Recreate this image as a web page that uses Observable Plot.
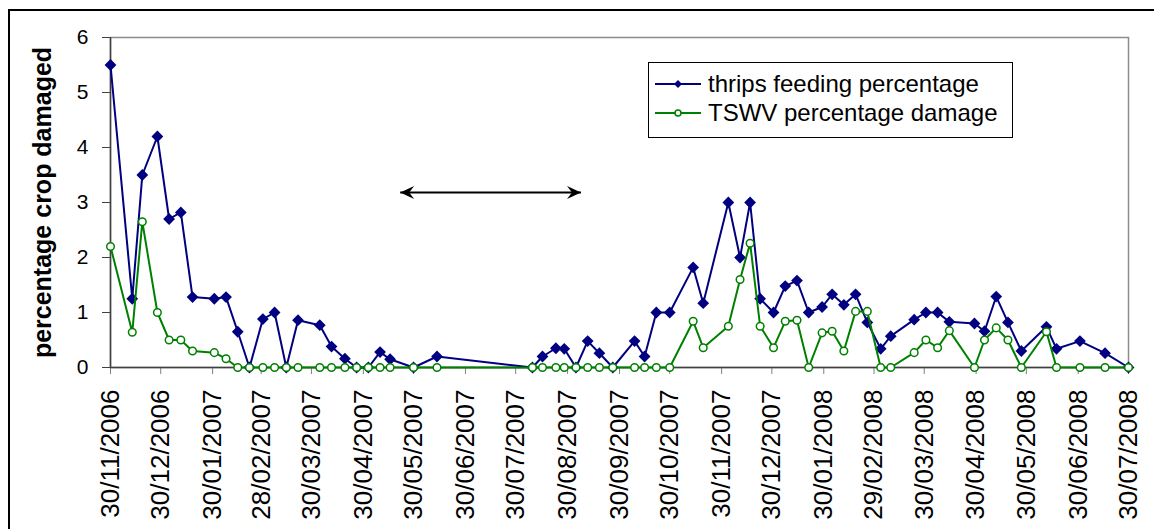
<!DOCTYPE html>
<html>
<head>
<meta charset="utf-8">
<script src="https://cdn.jsdelivr.net/npm/d3@7"></script>
<script src="https://cdn.jsdelivr.net/npm/@observablehq/plot@0.6"></script>
<style>
  body { margin: 0; background: #fff; }
  #chart { position: relative; width: 1154px; height: 529px; overflow: hidden;
           font-family: "Liberation Sans", Arial, sans-serif; }
  #legend { position: absolute; left: 648px; top: 62px; width: 363px; height: 74px;
            border: 1px solid #000; background: #fff; font-size: 24px; color: #000; }
  #legend .row { position: absolute; left: 6px; height: 26px; display: flex; align-items: center; }
  #legend svg { display: block; margin-right: 7px; }
</style>
</head>
<body>
<div id="chart"></div>
<script>
// Sampling dates (weekly scouting, with a gap over the 2007 winter)
const dates = [
  "2006-11-30","2006-12-13","2006-12-19","2006-12-28","2007-01-04","2007-01-11","2007-01-18","2007-01-31",
  "2007-02-07","2007-02-14","2007-02-21","2007-03-01","2007-03-08","2007-03-15","2007-03-22","2007-04-04",
  "2007-04-11","2007-04-19","2007-04-26","2007-05-03","2007-05-10","2007-05-16","2007-05-30","2007-06-13",
  "2007-08-09","2007-08-15","2007-08-23","2007-08-28","2007-09-04","2007-09-11","2007-09-18","2007-09-26",
  "2007-10-09","2007-10-15","2007-10-22","2007-10-30","2007-11-13","2007-11-19","2007-12-04","2007-12-11",
  "2007-12-17","2007-12-23","2007-12-31","2008-01-07","2008-01-14","2008-01-21","2008-01-29","2008-02-04",
  "2008-02-11","2008-02-18","2008-02-25","2008-03-04","2008-03-10","2008-03-24","2008-03-31","2008-04-07",
  "2008-04-14","2008-04-29","2008-05-05","2008-05-12","2008-05-19","2008-05-27","2008-06-11","2008-06-17",
  "2008-07-01","2008-07-16","2008-07-30"
];

// Percentage of crop damaged by thrips feeding
const thrips = [
  5.5, 1.25, 3.5, 4.2, 2.7, 2.82, 1.28, 1.25, 1.28, 0.65,
  0, 0.88, 1.0, 0, 0.86, 0.77, 0.38, 0.16, 0, 0,
  0.28, 0.15, 0, 0.2, 0, 0.2, 0.35, 0.34, 0, 0.48,
  0.26, 0, 0.48, 0.2, 1.0, 1.0, 1.82, 1.17, 3.0, 2.0,
  3.0, 1.25, 1.0, 1.48, 1.58, 1.0, 1.1, 1.33, 1.14, 1.33,
  0.82, 0.34, 0.57, 0.87, 1.0, 1.0, 0.83, 0.8, 0.66, 1.29,
  0.82, 0.3, 0.74, 0.34, 0.48, 0.26, 0
];

// Percentage of crop damaged by TSWV
const tswv = [
  2.2, 0.64, 2.65, 1.0, 0.5, 0.5, 0.3, 0.27, 0.16, 0,
  0, 0, 0, 0, 0, 0, 0, 0, 0, 0,
  0, 0, 0, 0, 0, 0, 0, 0, 0, 0,
  0, 0, 0, 0, 0, 0, 0.84, 0.36, 0.75, 1.6,
  2.26, 0.75, 0.36, 0.84, 0.86, 0, 0.63, 0.66, 0.3, 1.02,
  1.02, 0, 0, 0.27, 0.5, 0.36, 0.67, 0, 0.5, 0.72,
  0.5, 0, 0.65, 0, 0, 0, 0
];

const seriesNames = ["thrips feeding percentage", "TSWV percentage damage"];
const seriesColors = ["#000080", "#008000"];

// Axis ticks
const tickDates = [
  "2006-11-30","2006-12-30","2007-01-30","2007-02-28","2007-03-30","2007-04-30","2007-05-30",
  "2007-06-30","2007-07-30","2007-08-30","2007-09-30","2007-10-30","2007-11-30","2007-12-30",
  "2008-01-30","2008-02-29","2008-03-30","2008-04-30","2008-05-30","2008-06-30","2008-07-30"
];
const yTicks = [0, 1, 2, 3, 4, 5, 6];
const yLabel = "percentage crop damaged";

// Double-headed arrow spanning the between-season period
const periodStart = ["2007-05-22"];
const periodEnd = ["2007-09-07"];
const periodLevel = [3.18];

const parse = d3.utcParse("%Y-%m-%d");
const rows = dates.map((d, i) => ({date: parse(d), thrips: thrips[i], tswv: tswv[i]}));
const span = [{x1: parse(periodStart[0]), x2: parse(periodEnd[0]), y: periodLevel[0]}];
const heads = [
  {x: span[0].x1, y: span[0].y, angle: 180},
  {x: span[0].x2, y: span[0].y, angle: 0}
];

// Filled "stealth" arrowhead with its tip at the origin, pointing right
const stealth = {
  draw(context) {
    context.moveTo(0, 0);
    context.lineTo(-14, -6.5);
    context.lineTo(-9, 0);
    context.lineTo(-14, 6.5);
    context.closePath();
  }
};

const xStart = parse(tickDates[0]);
const xEnd = parse(tickDates[tickDates.length - 1]);

const plot = Plot.plot({
  width: 1154,
  height: 529,
  marginLeft: 110,
  marginRight: 26,
  marginTop: 37,
  marginBottom: 162,
  style: {fontFamily: "Liberation Sans, Arial, sans-serif", color: "#000", background: "transparent"},
  x: {type: "utc", domain: [xStart, xEnd]},
  y: {domain: [0, 6]},
  marks: [
    Plot.frame({stroke: "#8c8c8c", strokeWidth: 1.5}),
    Plot.axisY({ticks: yTicks, tickFormat: d => String(d), tickSize: 8, tickPadding: 14, fontSize: 21,
                stroke: "#404040", label: yLabel, labelAnchor: "center", labelArrow: "none", labelOffset: 77}),
    Plot.axisX({ticks: tickDates.map(parse), tickFormat: d3.utcFormat("%d/%m/%Y"), tickRotate: -90,
                tickSize: 7, tickPadding: 15, fontSize: 26, stroke: "#808080", label: null}),
    Plot.ruleY([0], {stroke: "#404040", strokeWidth: 1.5}),
    Plot.ruleX([xStart], {stroke: "#404040", strokeWidth: 1.5}),
    Plot.link(span, {x1: "x1", x2: "x2", y1: "y", y2: "y", stroke: "#000", strokeWidth: 2}),
    Plot.dot(heads, {x: "x", y: "y", rotate: "angle", symbol: stealth, fill: "#000", stroke: "none"}),
    Plot.line(rows, {x: "date", y: "thrips", stroke: seriesColors[0], strokeWidth: 2}),
    Plot.dot(rows, {x: "date", y: "thrips", symbol: "diamond2", r: 5.3, fill: seriesColors[0], stroke: "none"}),
    Plot.line(rows, {x: "date", y: "tswv", stroke: seriesColors[1], strokeWidth: 2}),
    Plot.dot(rows, {x: "date", y: "tswv", r: 3.8, fill: "#fff", stroke: seriesColors[1], strokeWidth: 1.5})
  ]
});

// Bold axis title (plain text, no direction arrow)
d3.select(plot).selectAll('g[aria-label="y-axis label"] text')
  .text(yLabel)
  .style("font-weight", "bold").style("font-size", "25px");

// Outer chart border
d3.select(plot).append("rect")
  .attr("x", 9).attr("y", 10).attr("width", 1200).attr("height", 600)
  .attr("fill", "none").attr("stroke", "#000").attr("stroke-width", 2);

const chart = document.getElementById("chart");
chart.appendChild(plot);

// Legend box inside the plot area
const legend = document.createElement("div");
legend.id = "legend";
chart.appendChild(legend);
seriesNames.forEach((name, i) => {
  const row = document.createElement("div");
  row.className = "row";
  row.style.top = (8 + i * 29) + "px";
  const sw = d3.create("svg").attr("width", 46).attr("height", 20);
  sw.append("line").attr("x1", 0).attr("x2", 46).attr("y1", 10).attr("y2", 10)
    .attr("stroke", seriesColors[i]).attr("stroke-width", 2);
  if (i === 0) {
    sw.append("path").attr("d", d3.symbol(d3.symbolDiamond2, 40)()).attr("transform", "translate(23,10)")
      .attr("fill", seriesColors[i]);
  } else {
    sw.append("circle").attr("cx", 23).attr("cy", 10).attr("r", 3).attr("fill", "#fff")
      .attr("stroke", seriesColors[i]).attr("stroke-width", 1.5);
  }
  row.appendChild(sw.node());
  const label = document.createElement("span");
  label.textContent = name;
  row.appendChild(label);
  legend.appendChild(row);
});
</script>
</body>
</html>
